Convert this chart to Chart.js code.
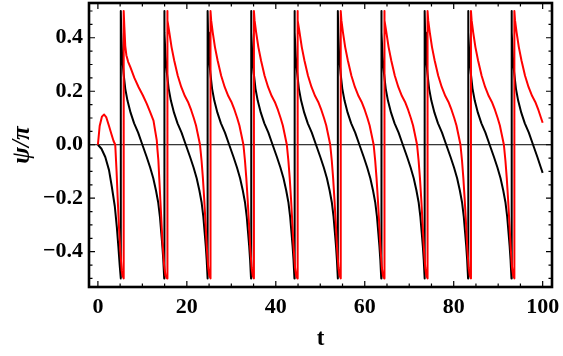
<!DOCTYPE html>
<html>
<head>
<meta charset="utf-8">
<script src="https://cdn.jsdelivr.net/npm/chart.js@4/dist/chart.umd.min.js"></script>
<style>
    html, body { margin: 0; padding: 0; background: #fff; }
</style>
</head>
<body>
<canvas id="psi-chart" width="563" height="356"></canvas>
<script>
// Tick positions
const xMajor = [0, 20, 40, 60, 80, 100];
const xMinor = [5, 10, 15, 25, 30, 35, 45, 50, 55, 65, 70, 75, 85, 90, 95];
const yMajor = [-0.4, -0.2, 0, 0.2, 0.4];
const yMinor = [-0.5, -0.45, -0.35, -0.3, -0.25, -0.15, -0.1, -0.05, 0.05, 0.1, 0.15, 0.25, 0.3, 0.35, 0.45, 0.5];

// Black curve: t and psi/pi (one line per branch)
const blackT = [
    0, 0.8, 1.66, 2.5, 3.14, 3.8, 4.26, 4.6, 4.9, 5.15, 5.15,
    5.25, 5.45, 5.75, 6.15, 6.65, 7.35, 8.15, 9.05, 10.0, 10.95, 11.75, 12.45, 13.05, 13.55, 13.95, 14.25, 14.5, 14.7, 14.91, 14.91,
    15.01, 15.21, 15.51, 15.91, 16.41, 17.11, 17.91, 18.81, 19.76, 20.71, 21.51, 22.21, 22.81, 23.31, 23.71, 24.01, 24.26, 24.46, 24.67, 24.67,
    24.77, 24.97, 25.27, 25.67, 26.17, 26.87, 27.67, 28.57, 29.52, 30.47, 31.27, 31.97, 32.57, 33.07, 33.47, 33.77, 34.02, 34.22, 34.43, 34.43,
    34.53, 34.73, 35.03, 35.43, 35.93, 36.63, 37.43, 38.33, 39.28, 40.23, 41.03, 41.73, 42.33, 42.83, 43.23, 43.53, 43.78, 43.98, 44.19, 44.19,
    44.29, 44.49, 44.79, 45.19, 45.69, 46.39, 47.19, 48.09, 49.04, 49.99, 50.79, 51.49, 52.09, 52.59, 52.99, 53.29, 53.54, 53.74, 53.95, 53.95,
    54.05, 54.25, 54.55, 54.95, 55.45, 56.15, 56.95, 57.85, 58.8, 59.75, 60.55, 61.25, 61.85, 62.35, 62.75, 63.05, 63.3, 63.5, 63.71, 63.71,
    63.81, 64.01, 64.31, 64.71, 65.21, 65.91, 66.71, 67.61, 68.56, 69.51, 70.31, 71.01, 71.61, 72.11, 72.51, 72.81, 73.06, 73.26, 73.47, 73.47,
    73.57, 73.77, 74.07, 74.47, 74.97, 75.67, 76.47, 77.37, 78.32, 79.27, 80.07, 80.77, 81.37, 81.87, 82.27, 82.57, 82.82, 83.02, 83.23, 83.23,
    83.33, 83.53, 83.83, 84.23, 84.73, 85.43, 86.23, 87.13, 88.08, 89.03, 89.83, 90.53, 91.13, 91.63, 92.03, 92.33, 92.58, 92.78, 92.99, 92.99,
    93.09, 93.29, 93.59, 93.99, 94.49, 95.19, 95.99, 96.89, 97.84, 98.79, 99.59, 100
];
const blackPsi = [
    0, -0.015, -0.046, -0.095, -0.158, -0.23, -0.308, -0.38, -0.45, -0.5, 0.5,
    0.42, 0.33, 0.27, 0.21, 0.165, 0.12, 0.08, 0.045, 0, -0.045, -0.085, -0.125, -0.17, -0.215, -0.27, -0.33, -0.38, -0.43, -0.5, 0.5,
    0.42, 0.33, 0.27, 0.21, 0.165, 0.12, 0.08, 0.045, 0, -0.045, -0.085, -0.125, -0.17, -0.215, -0.27, -0.33, -0.38, -0.43, -0.5, 0.5,
    0.42, 0.33, 0.27, 0.21, 0.165, 0.12, 0.08, 0.045, 0, -0.045, -0.085, -0.125, -0.17, -0.215, -0.27, -0.33, -0.38, -0.43, -0.5, 0.5,
    0.42, 0.33, 0.27, 0.21, 0.165, 0.12, 0.08, 0.045, 0, -0.045, -0.085, -0.125, -0.17, -0.215, -0.27, -0.33, -0.38, -0.43, -0.5, 0.5,
    0.42, 0.33, 0.27, 0.21, 0.165, 0.12, 0.08, 0.045, 0, -0.045, -0.085, -0.125, -0.17, -0.215, -0.27, -0.33, -0.38, -0.43, -0.5, 0.5,
    0.42, 0.33, 0.27, 0.21, 0.165, 0.12, 0.08, 0.045, 0, -0.045, -0.085, -0.125, -0.17, -0.215, -0.27, -0.33, -0.38, -0.43, -0.5, 0.5,
    0.42, 0.33, 0.27, 0.21, 0.165, 0.12, 0.08, 0.045, 0, -0.045, -0.085, -0.125, -0.17, -0.215, -0.27, -0.33, -0.38, -0.43, -0.5, 0.5,
    0.42, 0.33, 0.27, 0.21, 0.165, 0.12, 0.08, 0.045, 0, -0.045, -0.085, -0.125, -0.17, -0.215, -0.27, -0.33, -0.38, -0.43, -0.5, 0.5,
    0.42, 0.33, 0.27, 0.21, 0.165, 0.12, 0.08, 0.045, 0, -0.045, -0.085, -0.125, -0.17, -0.215, -0.27, -0.33, -0.38, -0.43, -0.5, 0.5,
    0.42, 0.33, 0.27, 0.21, 0.165, 0.12, 0.08, 0.045, 0, -0.045, -0.085, -0.105
];

// Red curve
const redT = [
    0, 0.4, 0.9, 1.4, 1.9, 2.5, 3.0, 3.5, 3.9, 4.2, 4.45, 4.75, 5.05, 5.35, 5.55, 5.8, 5.8,
    5.95, 6.15, 6.4, 6.8, 7.3, 8.2, 9.16, 10.1, 11.0, 11.8, 12.5, 12.9, 13.24, 13.4, 13.6, 14.05, 14.5, 14.9, 15.2, 15.56, 15.56,
    15.71, 16.06, 16.56, 17.16, 17.96, 18.76, 19.56, 20.26, 20.96, 21.56, 22.06, 22.46, 22.96, 23.31, 23.61, 23.91, 24.21, 24.51, 24.81, 25.06, 25.32, 25.32,
    25.47, 25.82, 26.32, 26.92, 27.72, 28.52, 29.32, 30.02, 30.72, 31.32, 31.82, 32.22, 32.72, 33.07, 33.37, 33.67, 33.97, 34.27, 34.57, 34.82, 35.08, 35.08,
    35.23, 35.58, 36.08, 36.68, 37.48, 38.28, 39.08, 39.78, 40.48, 41.08, 41.58, 41.98, 42.48, 42.83, 43.13, 43.43, 43.73, 44.03, 44.33, 44.58, 44.84, 44.84,
    44.99, 45.34, 45.84, 46.44, 47.24, 48.04, 48.84, 49.54, 50.24, 50.84, 51.34, 51.74, 52.24, 52.59, 52.89, 53.19, 53.49, 53.79, 54.09, 54.34, 54.6, 54.6,
    54.75, 55.1, 55.6, 56.2, 57.0, 57.8, 58.6, 59.3, 60.0, 60.6, 61.1, 61.5, 62.0, 62.35, 62.65, 62.95, 63.25, 63.55, 63.85, 64.1, 64.36, 64.36,
    64.51, 64.86, 65.36, 65.96, 66.76, 67.56, 68.36, 69.06, 69.76, 70.36, 70.86, 71.26, 71.76, 72.11, 72.41, 72.71, 73.01, 73.31, 73.61, 73.86, 74.12, 74.12,
    74.27, 74.62, 75.12, 75.72, 76.52, 77.32, 78.12, 78.82, 79.52, 80.12, 80.62, 81.02, 81.52, 81.87, 82.17, 82.47, 82.77, 83.07, 83.37, 83.62, 83.88, 83.88,
    84.03, 84.38, 84.88, 85.48, 86.28, 87.08, 87.88, 88.58, 89.28, 89.88, 90.38, 90.78, 91.28, 91.63, 91.93, 92.23, 92.53, 92.83, 93.13, 93.38, 93.64, 93.64,
    93.79, 94.14, 94.64, 95.24, 96.04, 96.84, 97.64, 98.34, 99.04, 99.64, 100
];
const redPsi = [
    0, 0.07, 0.105, 0.113, 0.102, 0.07, 0.042, 0.015, 0, -0.1, -0.2, -0.31, -0.4, -0.47, -0.49, -0.5, 0.5,
    0.44, 0.37, 0.335, 0.31, 0.29, 0.25, 0.215, 0.185, 0.153, 0.12, 0.09, 0.05, 0.016, -0.02, -0.059, -0.21, -0.358, -0.45, -0.49, -0.5, 0.5,
    0.465, 0.42, 0.365, 0.315, 0.258, 0.215, 0.182, 0.16, 0.13, 0.1, 0.072, 0.04, 0, -0.06, -0.125, -0.205, -0.295, -0.39, -0.46, -0.49, -0.5, 0.5,
    0.465, 0.42, 0.365, 0.315, 0.258, 0.215, 0.182, 0.16, 0.13, 0.1, 0.072, 0.04, 0, -0.06, -0.125, -0.205, -0.295, -0.39, -0.46, -0.49, -0.5, 0.5,
    0.465, 0.42, 0.365, 0.315, 0.258, 0.215, 0.182, 0.16, 0.13, 0.1, 0.072, 0.04, 0, -0.06, -0.125, -0.205, -0.295, -0.39, -0.46, -0.49, -0.5, 0.5,
    0.465, 0.42, 0.365, 0.315, 0.258, 0.215, 0.182, 0.16, 0.13, 0.1, 0.072, 0.04, 0, -0.06, -0.125, -0.205, -0.295, -0.39, -0.46, -0.49, -0.5, 0.5,
    0.465, 0.42, 0.365, 0.315, 0.258, 0.215, 0.182, 0.16, 0.13, 0.1, 0.072, 0.04, 0, -0.06, -0.125, -0.205, -0.295, -0.39, -0.46, -0.49, -0.5, 0.5,
    0.465, 0.42, 0.365, 0.315, 0.258, 0.215, 0.182, 0.16, 0.13, 0.1, 0.072, 0.04, 0, -0.06, -0.125, -0.205, -0.295, -0.39, -0.46, -0.49, -0.5, 0.5,
    0.465, 0.42, 0.365, 0.315, 0.258, 0.215, 0.182, 0.16, 0.13, 0.1, 0.072, 0.04, 0, -0.06, -0.125, -0.205, -0.295, -0.39, -0.46, -0.49, -0.5, 0.5,
    0.465, 0.42, 0.365, 0.315, 0.258, 0.215, 0.182, 0.16, 0.13, 0.1, 0.072, 0.04, 0, -0.06, -0.125, -0.205, -0.295, -0.39, -0.46, -0.49, -0.5, 0.5,
    0.465, 0.42, 0.365, 0.315, 0.258, 0.215, 0.182, 0.16, 0.13, 0.1, 0.082
];

function toPoints(ts, ys) {
    return ts.map((t, i) => ({ x: t, y: ys[i] }));
}

const serif = "'Liberation Serif', 'Times New Roman', serif";

// Zero line under the curves, frame with inward ticks on top
const framePlugin = {
    id: 'frameTicks',
    beforeDatasetsDraw(chart) {
        const { ctx, chartArea: a, scales: { y } } = chart;
        const y0 = y.getPixelForValue(0);
        ctx.save();
        ctx.strokeStyle = '#000';
        ctx.lineWidth = 1;
        ctx.beginPath();
        ctx.moveTo(a.left, y0);
        ctx.lineTo(a.right, y0);
        ctx.stroke();
        ctx.restore();
    },
    afterDatasetsDraw(chart) {
        const { ctx, chartArea: a, scales: { x, y } } = chart;
        ctx.save();
        ctx.strokeStyle = '#000';
        ctx.lineWidth = 1.2;
        ctx.beginPath();
        function xTick(v, len) {
            const px = x.getPixelForValue(v);
            ctx.moveTo(px, a.bottom); ctx.lineTo(px, a.bottom - len);
            ctx.moveTo(px, a.top); ctx.lineTo(px, a.top + len);
        }
        function yTick(v, len) {
            const py = y.getPixelForValue(v);
            ctx.moveTo(a.left, py); ctx.lineTo(a.left + len, py);
            ctx.moveTo(a.right, py); ctx.lineTo(a.right - len, py);
        }
        xMajor.forEach(v => xTick(v, 6));
        xMinor.forEach(v => xTick(v, 3.5));
        yMajor.forEach(v => yTick(v, 6));
        yMinor.forEach(v => yTick(v, 3.5));
        ctx.stroke();
        ctx.lineWidth = 2.6;
        ctx.strokeRect(a.left, a.top, a.right - a.left, a.bottom - a.top);
        ctx.restore();
    }
};

document.addEventListener('DOMContentLoaded', function() {
    const ctx = document.getElementById('psi-chart');
    new Chart(ctx, {
        type: 'line',
        data: {
            datasets: [{
                label: 'black',
                data: toPoints(blackT, blackPsi),
                borderColor: '#000000',
                borderWidth: 2,
                borderJoinStyle: 'round',
                pointRadius: 0,
                tension: 0,
                order: 2
            }, {
                label: 'red',
                data: toPoints(redT, redPsi),
                borderColor: '#ff0000',
                borderWidth: 2,
                borderJoinStyle: 'round',
                pointRadius: 0,
                tension: 0,
                order: 1
            }]
        },
        options: {
            responsive: false,
            animation: false,
            layout: { padding: { top: 3, right: 11, left: 0, bottom: 0 } },
            plugins: {
                legend: { display: false },
                tooltip: { enabled: false }
            },
            scales: {
                x: {
                    type: 'linear',
                    min: -2,
                    max: 102.1,
                    grid: { display: false, drawTicks: false },
                    border: { display: false },
                    afterBuildTicks: s => { s.ticks = xMajor.map(v => ({ value: v })); },
                    afterFit: s => {
                        s.height = 69;
                        s.paddingLeft = 0;
                        s.paddingRight = 0;
                    },
                    ticks: {
                        autoSkip: false,
                        maxRotation: 0,
                        padding: 7,
                        color: '#000',
                        font: { family: serif, size: 22, weight: 'bold' },
                        callback: v => String(v)
                    },
                    title: {
                        display: true,
                        text: 't',
                        color: '#000',
                        font: { family: serif, size: 23, weight: 'bold' },
                        padding: { top: 0, bottom: 3 }
                    }
                },
                y: {
                    min: -0.532,
                    max: 0.53,
                    grid: { display: false, drawTicks: false },
                    border: { display: false },
                    afterBuildTicks: s => { s.ticks = yMajor.map(v => ({ value: v })); },
                    afterFit: s => {
                        s.width = 89;
                        s.paddingTop = 0;
                        s.paddingBottom = 0;
                    },
                    ticks: {
                        autoSkip: false,
                        padding: 6,
                        color: '#000',
                        font: { family: serif, size: 22, weight: 'bold' },
                        callback: v => (v < 0 ? '\u2212' : '') + Math.abs(v).toFixed(1)
                    },
                    title: {
                        display: true,
                        text: 'ψ/π',
                        color: '#000',
                        font: { family: serif, size: 25, weight: 'bold', style: 'italic' },
                        padding: { top: 8, bottom: 0 }
                    }
                }
            }
        },
        plugins: [framePlugin]
    });
});
</script>
</body>
</html>
